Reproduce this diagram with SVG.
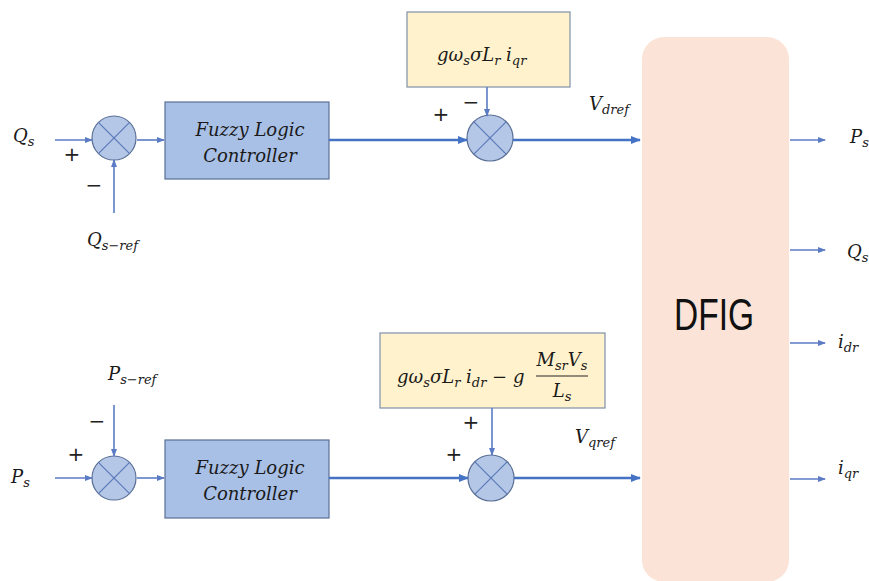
<svg xmlns="http://www.w3.org/2000/svg" width="869" height="581" viewBox="0 0 869 581">
<defs>
<marker id="ah" markerWidth="10" markerHeight="8" refX="9" refY="4" orient="auto" markerUnits="userSpaceOnUse">
<path d="M0,0 L10,4 L0,8 Z" fill="#4472c4"/>
</marker>
<marker id="ahs" markerWidth="8" markerHeight="6" refX="7" refY="3" orient="auto" markerUnits="userSpaceOnUse">
<path d="M0,0 L8,3 L0,6 Z" fill="#5b7bc4"/>
</marker>
</defs>
<style>
.thick{stroke:#4472c4;stroke-width:2.5;fill:none}
.thin{stroke:#5b7bc4;stroke-width:1.6;fill:none}
.sum{fill:#b4c7e7;stroke:#5a6f96;stroke-width:1.2}
.x{stroke:#5a7ab8;stroke-width:1.2}
.flc{fill:#a9c0e6;stroke:#5a6f96;stroke-width:1.2}
.ybox{fill:#fff2cc;stroke:#7f8fa8;stroke-width:1.2}
.m{font-family:"DejaVu Serif",serif;font-style:italic;font-size:18px;fill:#1a1a1a}
.sub{font-size:13px}
.flct{font-family:"DejaVu Serif",serif;font-style:italic;font-size:18px;fill:#1a1a1a;text-anchor:middle}
.sg{font-family:"DejaVu Sans",sans-serif;font-size:20px;fill:#222;text-anchor:middle}
</style>
<rect width="869" height="581" fill="#ffffff"/>

<g id="dfig">
<rect x="642" y="37" width="147" height="545" rx="22" ry="22" fill="#fbe4d7"/>
<text x="674" y="330" font-family="Liberation Sans, sans-serif" font-size="45" fill="#111" textLength="80" lengthAdjust="spacingAndGlyphs">DFIG</text>
</g>

<g id="flc1">
<rect class="flc" x="165" y="102" width="164" height="77"/>
<text class="flct" x="250" y="136">Fuzzy Logic</text>
<text class="flct" x="250" y="162">Controller</text>
</g>
<g id="flc2">
<rect class="flc" x="165" y="440" width="164" height="78"/>
<text class="flct" x="250" y="474">Fuzzy Logic</text>
<text class="flct" x="250" y="500">Controller</text>
</g>

<g id="sum1">
<circle class="sum" cx="114" cy="138" r="22"/>
<line class="x" x1="98.4" y1="122.4" x2="129.6" y2="153.6"/>
<line class="x" x1="129.6" y1="122.4" x2="98.4" y2="153.6"/>
</g>
<g id="sum2">
<circle class="sum" cx="490" cy="138" r="23"/>
<line class="x" x1="473.7" y1="121.7" x2="506.3" y2="154.3"/>
<line class="x" x1="506.3" y1="121.7" x2="473.7" y2="154.3"/>
</g>
<g id="sum3">
<circle class="sum" cx="114" cy="478" r="22"/>
<line class="x" x1="98.4" y1="462.4" x2="129.6" y2="493.6"/>
<line class="x" x1="129.6" y1="462.4" x2="98.4" y2="493.6"/>
</g>
<g id="sum4">
<circle class="sum" cx="491" cy="478" r="23"/>
<line class="x" x1="474.7" y1="461.7" x2="507.3" y2="494.3"/>
<line class="x" x1="507.3" y1="461.7" x2="474.7" y2="494.3"/>
</g>

<g id="ff1">
<rect class="ybox" x="407" y="12" width="163" height="75"/>
<text class="m" x="437" y="61">gω<tspan class="sub" dy="4">s</tspan><tspan dy="-4">σL</tspan><tspan class="sub" dy="4">r</tspan><tspan dy="-4"> i</tspan><tspan class="sub" dy="4">qr</tspan></text>
</g>
<g id="ff2">
<rect class="ybox" x="380" y="333" width="225" height="75"/>
<text class="m" x="397" y="383">gω<tspan class="sub" dy="4">s</tspan><tspan dy="-4">σL</tspan><tspan class="sub" dy="4">r</tspan><tspan dy="-4"> i</tspan><tspan class="sub" dy="4">dr</tspan><tspan dy="-4"> − g</tspan></text>
<text class="m" x="562" y="366" text-anchor="middle">M<tspan class="sub" dy="4">sr</tspan><tspan dy="-4">V</tspan><tspan class="sub" dy="4">s</tspan></text>
<line x1="536" y1="376" x2="588" y2="376" stroke="#222" stroke-width="1.2"/>
<text class="m" x="562" y="397" text-anchor="middle">L<tspan class="sub" dy="4">s</tspan></text>
</g>

<g id="connectors">
<line class="thin" x1="55" y1="140" x2="92" y2="140" marker-end="url(#ahs)"/>
<line class="thin" x1="114" y1="213" x2="114" y2="160" marker-end="url(#ahs)"/>
<line class="thin" x1="137" y1="140" x2="164" y2="140" marker-end="url(#ahs)"/>
<line class="thick" x1="329" y1="140" x2="467" y2="140" marker-end="url(#ah)"/>
<line class="thin" x1="487" y1="87" x2="487" y2="116" marker-end="url(#ahs)"/>
<line class="thick" x1="513" y1="140" x2="640" y2="140" marker-end="url(#ah)"/>

<line class="thin" x1="55" y1="478" x2="92" y2="478" marker-end="url(#ahs)"/>
<line class="thin" x1="114" y1="405" x2="114" y2="456" marker-end="url(#ahs)"/>
<line class="thin" x1="137" y1="478" x2="164" y2="478" marker-end="url(#ahs)"/>
<line class="thick" x1="329" y1="478" x2="468" y2="478" marker-end="url(#ah)"/>
<line class="thin" x1="492" y1="408" x2="492" y2="455" marker-end="url(#ahs)"/>
<line class="thick" x1="514" y1="478" x2="640" y2="478" marker-end="url(#ah)"/>

<line class="thin" x1="790" y1="140" x2="825" y2="140" marker-end="url(#ahs)"/>
<line class="thin" x1="790" y1="250" x2="825" y2="250" marker-end="url(#ahs)"/>
<line class="thin" x1="790" y1="343" x2="825" y2="343" marker-end="url(#ahs)"/>
<line class="thin" x1="790" y1="479" x2="825" y2="479" marker-end="url(#ahs)"/>
</g>

<g id="labels">
<text class="m" x="13" y="142">Q<tspan class="sub" dy="4">s</tspan></text>
<text class="sg" x="72" y="161">+</text>
<text class="sg" x="94" y="192">−</text>
<text class="m" x="87" y="246">Q<tspan class="sub" dy="4">s−ref</tspan></text>
<text class="sg" x="441" y="121">+</text>
<text class="sg" x="471" y="109">−</text>
<text class="m" x="589" y="110">V<tspan class="sub" dy="4">dref</tspan></text>

<text class="m" x="11" y="483">P<tspan class="sub" dy="4">s</tspan></text>
<text class="sg" x="76" y="461">+</text>
<text class="sg" x="97" y="428">−</text>
<text class="m" x="108" y="380">P<tspan class="sub" dy="4">s−ref</tspan></text>
<text class="sg" x="454" y="461">+</text>
<text class="sg" x="471" y="429" font-size="16">+</text>
<text class="m" x="575" y="443">V<tspan class="sub" dy="4">qref</tspan></text>

<text class="m" x="850" y="143">P<tspan class="sub" dy="4">s</tspan></text>
<text class="m" x="847" y="258">Q<tspan class="sub" dy="4">s</tspan></text>
<text class="m" x="838" y="348">i<tspan class="sub" dy="4">dr</tspan></text>
<text class="m" x="838" y="474">i<tspan class="sub" dy="4">qr</tspan></text>
</g>
</svg>
